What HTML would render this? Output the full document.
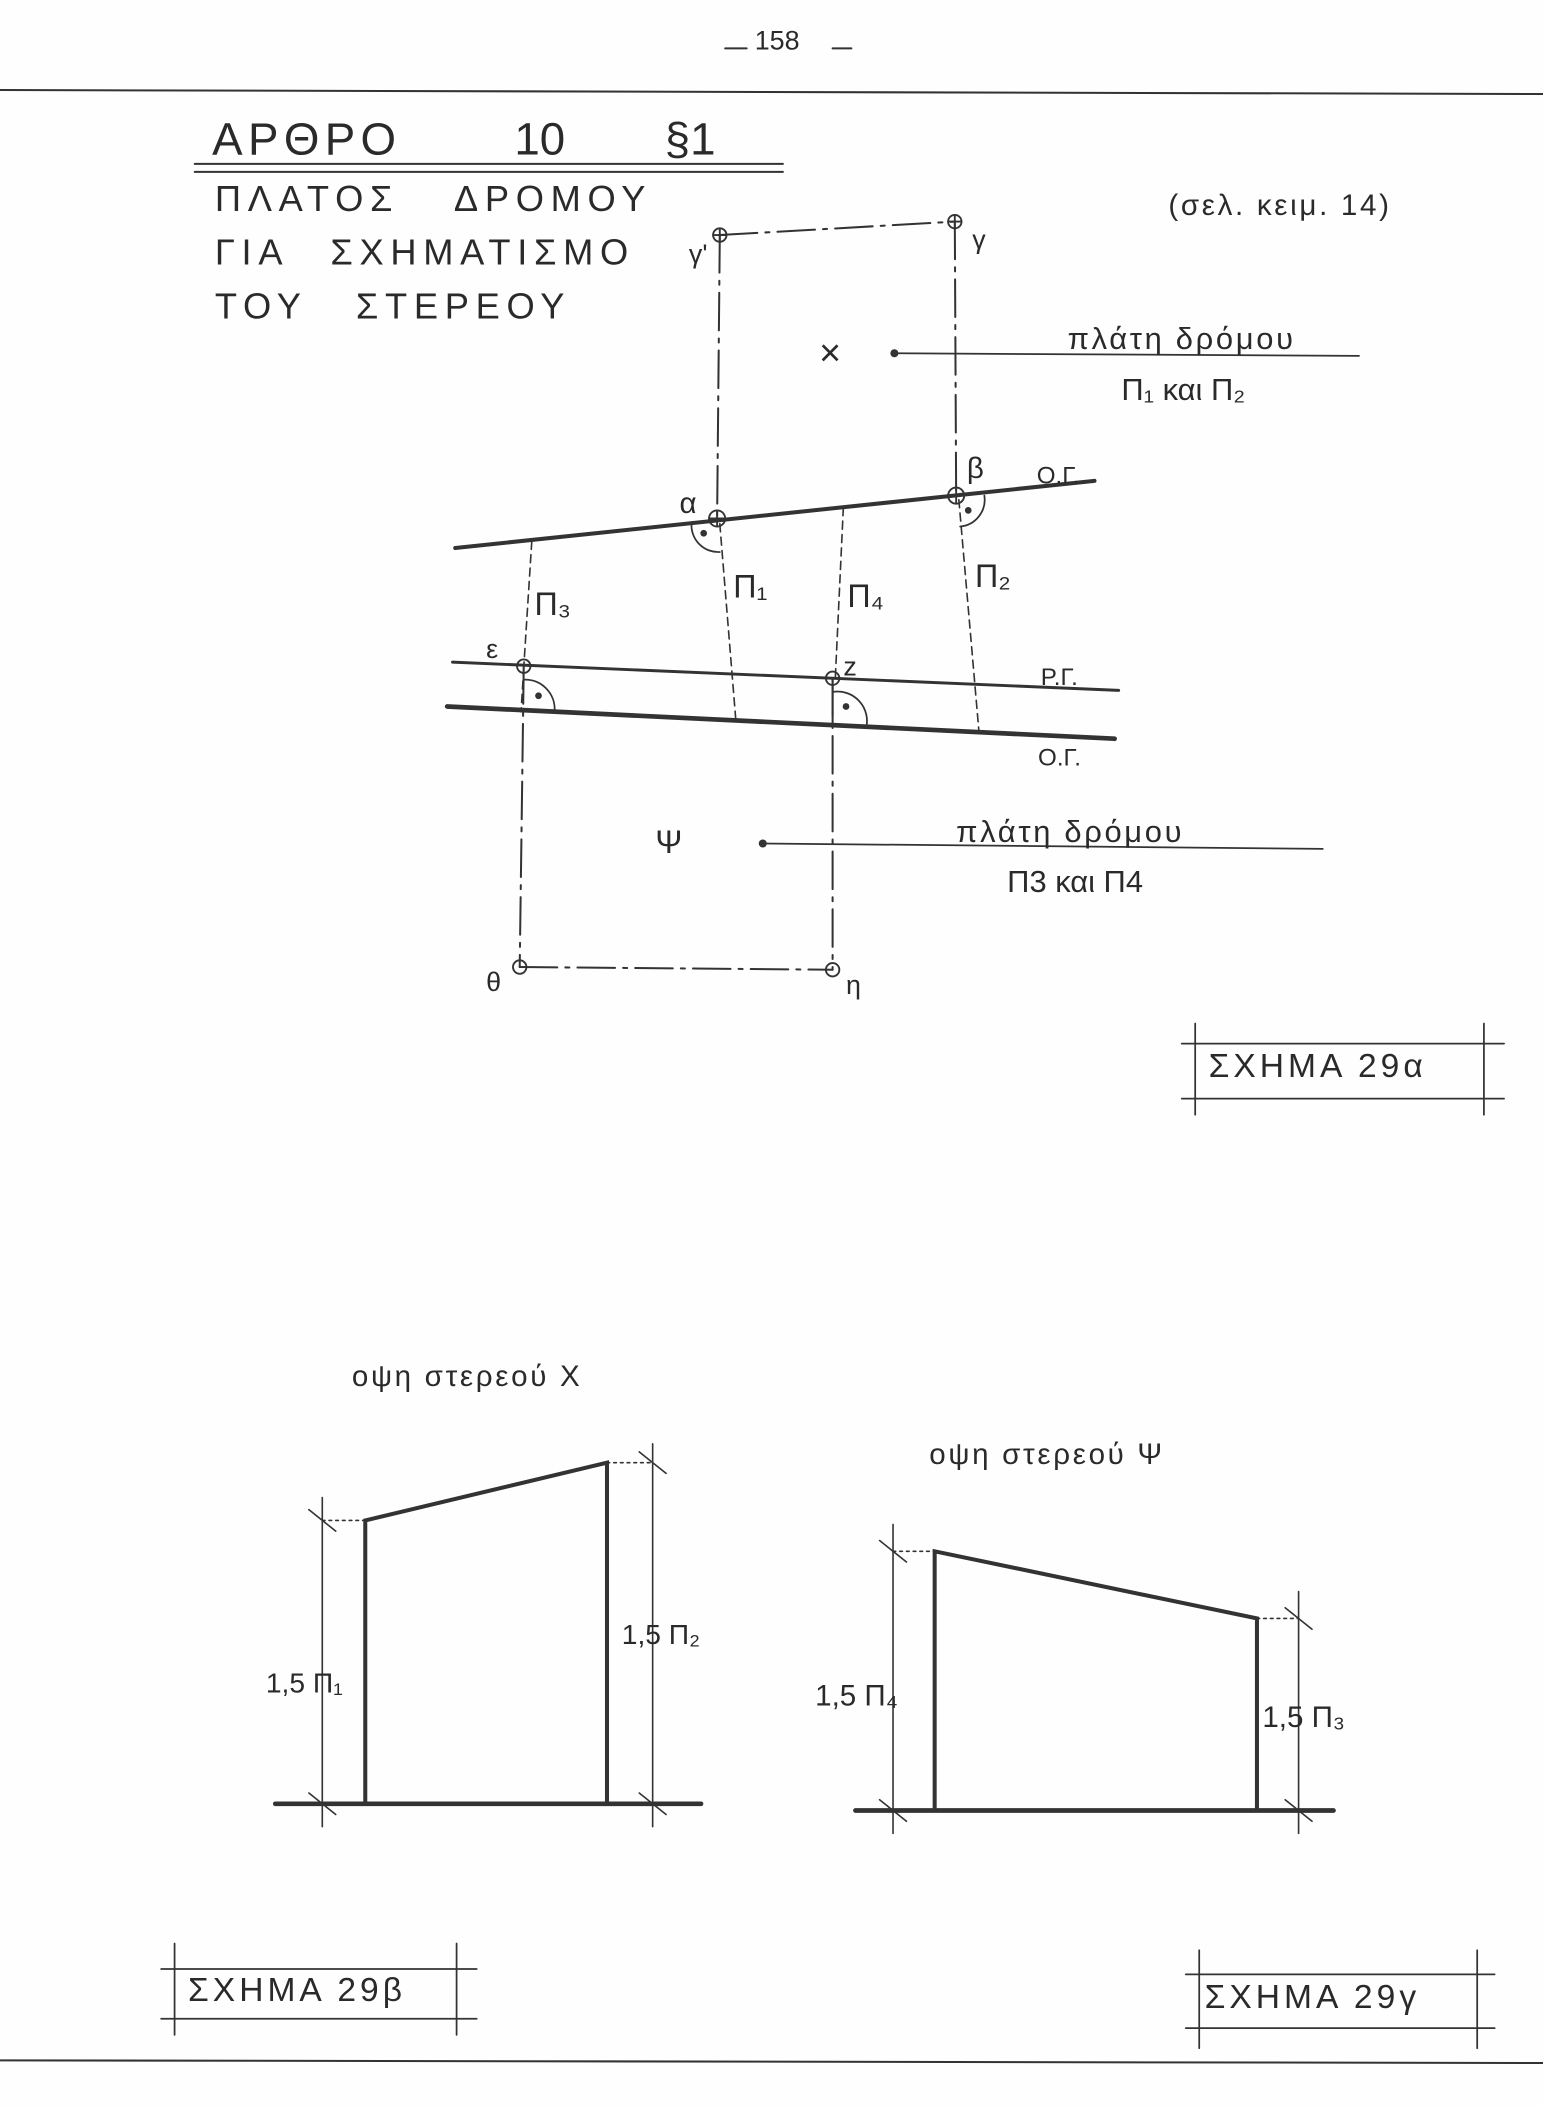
<!DOCTYPE html>
<html><head><meta charset="utf-8"><style>
html,body{margin:0;padding:0;background:#fff;}
svg{display:block;}
text{font-family:"Liberation Sans","DejaVu Sans",sans-serif;fill:#2a2a2a;}
</style></head><body>
<svg width="1543" height="2106" viewBox="0 0 1149 1568" preserveAspectRatio="none" xmlns="http://www.w3.org/2000/svg">
<rect width="1149" height="1568" fill="#fefefe"/>
<g stroke="#333" fill="none" stroke-linecap="round">
<line x1="0" y1="67" x2="1149" y2="70" stroke-width="1.5"/>
<line x1="0" y1="1534" x2="1149" y2="1536" stroke-width="1.5"/>
<line x1="540" y1="36" x2="556" y2="36" stroke-width="1.5"/>
<line x1="620" y1="36" x2="634" y2="36" stroke-width="1.5"/>
<line x1="145" y1="122" x2="583" y2="122" stroke-width="1.5"/>
<line x1="145" y1="128" x2="583" y2="128" stroke-width="1.5"/>
<g stroke-dasharray="28,6,3,6" stroke-width="1.5">
<line x1="536" y1="175" x2="711" y2="165"/>
<line x1="536" y1="175" x2="534" y2="386"/>
<line x1="711" y1="165" x2="712" y2="369"/>
<line x1="390" y1="496" x2="387" y2="720"/>
<line x1="620" y1="505" x2="620" y2="722"/>
<line x1="387" y1="720" x2="620" y2="722"/>
</g>
<line x1="339" y1="408" x2="815" y2="358" stroke-width="3"/>
<line x1="337" y1="493" x2="833" y2="514" stroke-width="2.2"/>
<line x1="333" y1="526" x2="830" y2="550" stroke-width="3.5"/>
<g stroke-dasharray="6,4" stroke-width="1.2">
<line x1="396" y1="403" x2="390" y2="497"/>
<line x1="536" y1="390" x2="548" y2="537"/>
<line x1="628" y1="378" x2="622" y2="505"/>
<line x1="714" y1="372" x2="729" y2="545"/>
<line x1="390" y1="497" x2="388" y2="530"/>
</g>
<line x1="620" y1="505" x2="620" y2="540" stroke-width="1.5"/>
<g stroke-width="1.4">
<circle cx="536" cy="175" r="5"/><line x1="531" y1="175" x2="541" y2="175"/><line x1="536" y1="170" x2="536" y2="180"/>
<circle cx="711" cy="165" r="5"/><line x1="706" y1="165" x2="716" y2="165"/><line x1="711" y1="160" x2="711" y2="170"/>
<circle cx="534" cy="386" r="6"/><line x1="528" y1="386" x2="540" y2="386"/><line x1="534" y1="380" x2="534" y2="392"/>
<circle cx="712" cy="369" r="6"/><line x1="706" y1="369" x2="718" y2="369"/><line x1="712" y1="363" x2="712" y2="375"/>
<circle cx="390" cy="496" r="5"/>
<circle cx="620" cy="505" r="5"/><line x1="615" y1="505" x2="625" y2="505"/>
<circle cx="387" cy="720" r="5"/>
<circle cx="620" cy="722" r="5"/>
</g>
<path d="M515 389 A20 20 0 0 0 536 411" stroke-width="1.3"/>
<path d="M733 369 A20 20 0 0 1 715 392" stroke-width="1.3"/>
<path d="M390 506 A22 22 0 0 1 413 529" stroke-width="1.3"/>
<path d="M621 515 A22 22 0 0 1 645 542" stroke-width="1.3"/>
<line x1="666" y1="263" x2="1012" y2="265" stroke-width="1.3"/>
<line x1="568" y1="628" x2="985" y2="632" stroke-width="1.3"/>
<g stroke-width="1.3">
<line x1="880" y1="777" x2="1120" y2="777"/><line x1="880" y1="818" x2="1120" y2="818"/>
<line x1="890" y1="762" x2="890" y2="830"/><line x1="1105" y1="762" x2="1105" y2="830"/>
<line x1="120" y1="1466" x2="355" y2="1466"/><line x1="120" y1="1503" x2="355" y2="1503"/>
<line x1="130" y1="1447" x2="130" y2="1515"/><line x1="340" y1="1447" x2="340" y2="1515"/>
<line x1="883" y1="1470" x2="1113" y2="1470"/><line x1="883" y1="1510" x2="1113" y2="1510"/>
<line x1="893" y1="1452" x2="893" y2="1525"/><line x1="1100" y1="1452" x2="1100" y2="1525"/>
</g>
<line x1="205" y1="1343" x2="522" y2="1343" stroke-width="3.5"/>
<polyline points="272,1343 272,1132 452,1089 452,1343" stroke-width="3"/>
<g stroke-width="1.2">
<line x1="240" y1="1115" x2="240" y2="1360"/><line x1="486" y1="1075" x2="486" y2="1360"/>
<line x1="230" y1="1124" x2="250" y2="1140"/><line x1="230" y1="1335" x2="250" y2="1351"/>
<line x1="476" y1="1081" x2="496" y2="1097"/><line x1="476" y1="1335" x2="496" y2="1351"/>
<line x1="240" y1="1132" x2="272" y2="1132" stroke-dasharray="2,3"/>
<line x1="452" y1="1089" x2="486" y2="1089" stroke-dasharray="2,3"/>
</g>
<line x1="637" y1="1348" x2="993" y2="1348" stroke-width="3.5"/>
<polyline points="696,1348 696,1155 936,1205 936,1348" stroke-width="3"/>
<g stroke-width="1.2">
<line x1="665" y1="1135" x2="665" y2="1365"/><line x1="967" y1="1185" x2="967" y2="1365"/>
<line x1="655" y1="1147" x2="675" y2="1163"/><line x1="655" y1="1340" x2="675" y2="1356"/>
<line x1="957" y1="1197" x2="977" y2="1213"/><line x1="957" y1="1340" x2="977" y2="1356"/>
<line x1="665" y1="1155" x2="696" y2="1155" stroke-dasharray="2,3"/>
<line x1="936" y1="1205" x2="967" y2="1205" stroke-dasharray="2,3"/>
</g>
</g>
<g fill="#333">
<circle cx="666" cy="263" r="3"/><circle cx="568" cy="628" r="3"/>
<circle cx="524" cy="397" r="2.5"/><circle cx="721" cy="380" r="2.5"/>
<circle cx="401" cy="518" r="2.5"/><circle cx="630" cy="526" r="2.5"/>
</g>
<text x="562" y="37" font-size="20">158</text>
<text x="158" y="115" font-size="34" letter-spacing="4">ΑΡΘΡΟ</text>
<text x="383" y="115" font-size="34">10</text>
<text x="495" y="115" font-size="34">§1</text>
<text x="160" y="157" font-size="27" letter-spacing="5">ΠΛΑΤΟΣ</text>
<text x="338" y="157" font-size="27" letter-spacing="5">ΔΡΟΜΟΥ</text>
<text x="160" y="197" font-size="27" letter-spacing="5">ΓΙΑ</text>
<text x="246" y="197" font-size="27" letter-spacing="5">ΣΧΗΜΑΤΙΣΜΟ</text>
<text x="160" y="237" font-size="27" letter-spacing="5">ΤΟΥ</text>
<text x="265" y="237" font-size="27" letter-spacing="5">ΣΤΕΡΕΟΥ</text>
<text x="870" y="160" font-size="22" letter-spacing="2">(σελ. κειμ.  14)</text>
<text x="513" y="196" font-size="20">γ'</text>
<text x="724" y="185" font-size="20">γ</text>
<text x="610" y="272" font-size="28">×</text>
<text x="795" y="260" font-size="23" letter-spacing="2">πλάτη  δρόμου</text>
<text x="835" y="298" font-size="23">Π₁  και  Π₂</text>
<text x="506" y="382" font-size="22">α</text>
<text x="720" y="356" font-size="22">β</text>
<text x="772" y="360" font-size="18">Ο.Γ.</text>
<text x="398" y="458" font-size="24">Π₃</text>
<text x="546" y="445" font-size="24">Π₁</text>
<text x="631" y="452" font-size="24">Π₄</text>
<text x="726" y="437" font-size="24">Π₂</text>
<text x="362" y="490" font-size="20">ε</text>
<text x="628" y="503" font-size="20">z</text>
<text x="775" y="510" font-size="18">Ρ.Γ.</text>
<text x="773" y="570" font-size="18">Ο.Γ.</text>
<text x="488" y="635" font-size="24">Ψ</text>
<text x="712" y="627" font-size="23" letter-spacing="2">πλάτη  δρόμου</text>
<text x="750" y="664" font-size="23">Π3  και  Π4</text>
<text x="362" y="738" font-size="20">θ</text>
<text x="630" y="740" font-size="20">η</text>
<text x="900" y="802" font-size="25" letter-spacing="3">ΣΧΗΜΑ  29α</text>
<text x="262" y="1032" font-size="22" letter-spacing="2">οψη  στερεού  Χ</text>
<text x="198" y="1260" font-size="21">1,5 Π₁</text>
<text x="463" y="1224" font-size="21">1,5 Π₂</text>
<text x="692" y="1090" font-size="22" letter-spacing="2">οψη  στερεού   Ψ</text>
<text x="607" y="1270" font-size="22">1,5 Π₄</text>
<text x="940" y="1286" font-size="22">1,5 Π₃</text>
<text x="140" y="1490" font-size="25" letter-spacing="3">ΣΧΗΜΑ  29β</text>
<text x="897" y="1495" font-size="25" letter-spacing="3">ΣΧΗΜΑ  29γ</text>
</svg>
</body></html>
